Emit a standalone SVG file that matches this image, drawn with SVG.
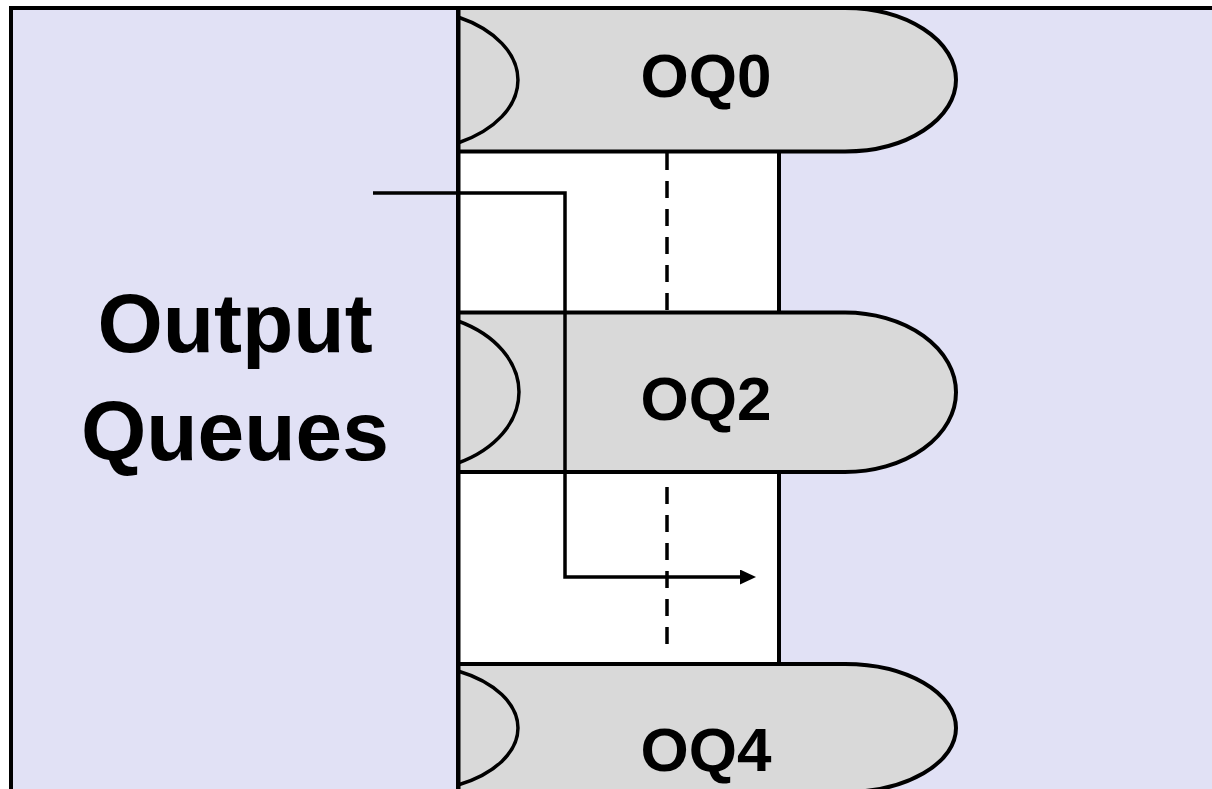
<svg xmlns="http://www.w3.org/2000/svg" width="1212" height="789" viewBox="0 0 1212 789">
  <defs>
    <style>
      .panel { fill: #E1E1F5; stroke: #000; stroke-width: 4; }
      .slot { fill: #FFFFFF; stroke: #000; stroke-width: 4; }
      .queue { fill: #D9D9D9; stroke: #000; stroke-width: 4; }
      .arc { fill: none; stroke: #000; stroke-width: 3.5; }
      .divider { stroke: #000; stroke-width: 4; fill: none; }
      .dash { stroke: #000; stroke-width: 3.5; stroke-dasharray: 17 11; fill: none; }
      .flow { stroke: #000; stroke-width: 3.5; fill: none; stroke-linejoin: miter; }
      .qlabel { font-family: "Liberation Sans", Arial, sans-serif; font-weight: bold; font-size: 62px; fill: #000; text-anchor: middle; }
      .title { font-family: "Liberation Sans", Arial, sans-serif; font-weight: bold; font-size: 84px; fill: #000; text-anchor: middle; }
    </style>
    <marker id="arrow" markerUnits="userSpaceOnUse" markerWidth="16" markerHeight="15" refX="4" refY="7.5" orient="auto">
      <path d="M0,0 L16,7.5 L0,15 Z" fill="#000"/>
    </marker>
  </defs>

  <rect width="1212" height="789" fill="#FFFFFF"/>

  <g id="panel">
    <rect class="panel" x="11" y="8" width="1215" height="800"/>
  </g>

  <g id="slot">
    <rect class="slot" x="458" y="151" width="321" height="513"/>
  </g>

  <g id="dashes">
    <line class="dash" x1="667" y1="153" x2="667" y2="311"/>
    <line class="dash" x1="667" y1="487" x2="667" y2="645"/>
  </g>

  <g id="oq0">
    <path class="queue" d="M458,8 H845 A111,71.75 0 0 1 845,151.5 H458 Z"/>
    <path class="arc" d="M458,17 A115,71.75 0 0 1 458,143"/>
    <text class="qlabel" x="706" y="97">OQ0</text>
  </g>

  <g id="oq2">
    <path class="queue" d="M458,312.5 H845 A111,79.75 0 0 1 845,472 H458 Z"/>
    <path class="arc" d="M458,321 A112,79.75 0 0 1 458,463"/>
    <text class="qlabel" x="706" y="420">OQ2</text>
  </g>

  <g id="oq4">
    <path class="queue" d="M458,664 H845 A111,64 0 0 1 845,792 H458 Z"/>
    <path class="arc" d="M458,671 A110,64 0 0 1 458,785"/>
    <text class="qlabel" x="706" y="771">OQ4</text>
  </g>

  <g id="divider">
    <line class="divider" x1="458.5" y1="8" x2="458.5" y2="789"/>
  </g>

  <g id="connectors">
    <path class="flow" d="M373,193 H565 V577 H744" marker-end="url(#arrow)"/>
  </g>

  <g id="title">
    <text class="title" x="235" y="352">Output</text>
    <text class="title" x="235" y="460">Queues</text>
  </g>
</svg>
